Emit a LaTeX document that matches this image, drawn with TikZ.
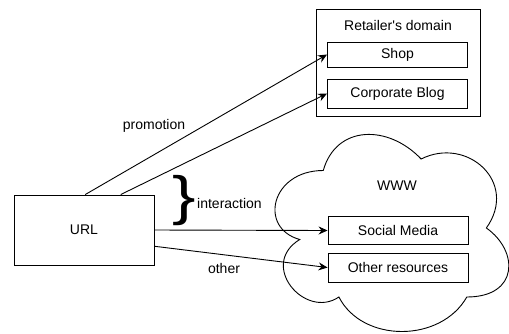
\documentclass[tikz,border=0pt]{standalone}
\usepackage{fontspec}
\setmainfont{Liberation Sans}
\usetikzlibrary{arrows.meta,calc}

\tikzset{
  box/.style={draw, line width=0.9pt, rectangle, minimum width=140pt, inner sep=0pt,
    font=\fontsize{14}{16}\selectfont},
  label/.style={inner sep=0pt, font=\fontsize{14}{16}\selectfont},
  link/.style={line width=0.9pt, -{Stealth[length=9pt,width=8pt,inset=3pt]}},
  plain/.style={line width=0.9pt}
}

\begin{document}
\begin{tikzpicture}[x=1pt, y=-1pt]
\useasboundingbox (0,0) rectangle (509,333);

% retailer's own domain with its two sites
\node[box, minimum width=164pt, minimum height=107pt] (dom) at (398,62.5) {};
\node[label] (domlbl) at (398,25) {Retailer\textquotesingle s domain};
\node[box, minimum height=25pt] (shop) at (397.5,54.5) {Shop};
\node[box, minimum height=29pt] (blog) at (397.5,93.5) {Corporate Blog};

% the wider web, drawn as a cloud
\begin{scope}[xshift=258pt, yshift=-113pt, x=261pt, y=-230pt]
  \draw[plain] (0.25,0.25)
    .. controls (0.05,0.25) and (0,0.5) .. (0.16,0.55)
    .. controls (0,0.66) and (0.18,0.9) .. (0.31,0.8)
    .. controls (0.4,1) and (0.7,1) .. (0.8,0.8)
    .. controls (1,0.8) and (1,0.6) .. (0.875,0.5)
    .. controls (1,0.3) and (0.8,0.1) .. (0.625,0.2)
    .. controls (0.5,0.05) and (0.3,0.05) .. (0.25,0.25) -- cycle;
\end{scope}
\node[label] (www) at (397,186) {WWW};
\node[box, minimum height=28pt] (social) at (398,230.5) {Social Media};
\node[box, minimum height=29pt] (other) at (398,267.5) {Other resources};

% the URL and where it leads
\node[box, minimum height=70pt] (url) at (84,230) {URL};

\draw[link] (url.88.4) -- (shop.west);
\draw[link] (url.44.2) -- (blog.west);
\draw[link] (url.east) -- (social.west);
\draw[link] (url.-13.65) -- (other.west);

\node[label] (promo) at (154,126) {promotion};
\node[label] (oth) at (224,268) {other};
\node[inner sep=0pt, xscale=1.3, font=\fontsize{54}{54}\selectfont] (brace) at (184.5,201) {\}};
\node[label, anchor=west] (inter) at (197,203) {interaction};
\end{tikzpicture}
\end{document}
